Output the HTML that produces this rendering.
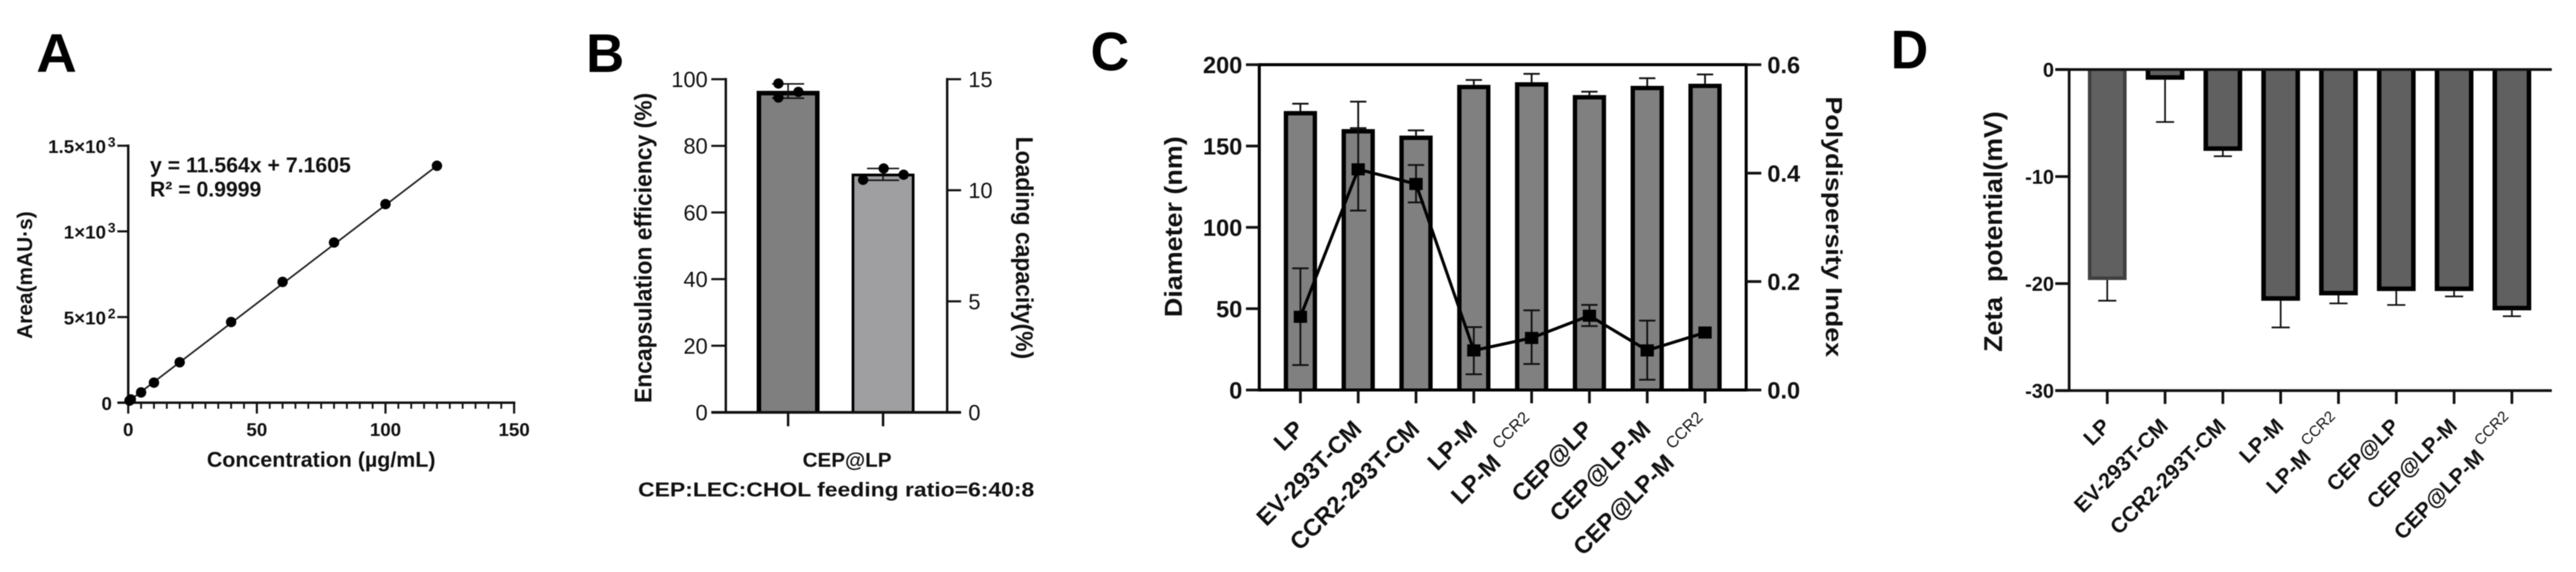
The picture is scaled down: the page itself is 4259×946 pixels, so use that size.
<!DOCTYPE html>
<html lang="en">
<head>
<meta charset="utf-8">
<title>CEP liposome characterization panels</title>
<style>
html,body{margin:0;padding:0;background:#fff;}
svg{display:block;filter:blur(0.7px);}
text{font-family:"Liberation Sans",Arial,sans-serif;fill:#111;}
.b{font-weight:700;}
.letter{font-size:90px;font-weight:700;fill:#000;}
</style>
</head>
<body>
<svg id="fig" xmlns="http://www.w3.org/2000/svg" width="4259" height="946" viewBox="0 0 4259 946">
<rect width="4259" height="946" fill="#fff"/>
<g id="panelA">
<text class="letter" x="60" y="119" textLength="67" lengthAdjust="spacingAndGlyphs">A</text>
<text class="b" font-size="35" text-anchor="middle" transform="translate(53,455) rotate(-90)" textLength="211" lengthAdjust="spacingAndGlyphs">Area(mAU·s)</text>
<text class="b" font-size="35" x="342" y="772" textLength="378" lengthAdjust="spacingAndGlyphs">Concentration (µg/mL)</text>
<text class="b" font-size="35" x="248" y="285" textLength="332" lengthAdjust="spacingAndGlyphs">y = 11.564x + 7.1605</text>
<text class="b" font-size="35" x="248" y="325" textLength="184" lengthAdjust="spacingAndGlyphs">R² = 0.9999</text>
</g>
<g id="panelB">
<text class="letter" x="969" y="119" textLength="63" lengthAdjust="spacingAndGlyphs">B</text>
<text class="b" font-size="40" text-anchor="middle" transform="translate(1077,410) rotate(-90)" textLength="513" lengthAdjust="spacingAndGlyphs">Encapsulation efficiency (%)</text>
<text class="b" font-size="40" text-anchor="middle" transform="translate(1680,410) rotate(90)" textLength="368" lengthAdjust="spacingAndGlyphs">Loading capacity(%)</text>
<text class="b" font-size="33" x="1327" y="772" textLength="147" lengthAdjust="spacingAndGlyphs">CEP@LP</text>
<text class="b" font-size="33" x="1055" y="821" textLength="655" lengthAdjust="spacingAndGlyphs">CEP:LEC:CHOL feeding ratio=6:40:8</text>
</g>
<g id="panelC">
<text class="letter" x="1803" y="116" textLength="64" lengthAdjust="spacingAndGlyphs">C</text>
<text class="b" font-size="41" text-anchor="middle" transform="translate(1954,375) rotate(-90)" textLength="299" lengthAdjust="spacingAndGlyphs">Diameter (nm)</text>
<text class="b" font-size="38" text-anchor="middle" transform="translate(3019,375) rotate(90)" textLength="431" lengthAdjust="spacingAndGlyphs">Polydispersity Index</text>
</g>
<g id="panelD">
<text class="letter" x="3126" y="113" textLength="62" lengthAdjust="spacingAndGlyphs">D</text>
<text class="b" font-size="43" text-anchor="middle" transform="translate(3310,383) rotate(-90)" textLength="398" lengthAdjust="spacingAndGlyphs">Zeta&#160;&#160;potential(mV)</text>
</g>
</svg>
<script>
/* ---------- Panel A data ---------- */
var calibConc = [0.5, 1, 5, 10, 20, 40, 60, 80, 100, 120];
var calibArea = [12, 19, 60, 117, 236, 471, 705, 935, 1159, 1383];
var calibYTicks = [0, 500, 1000, 1500];
var calibYTickBase = ['0', '5×10', '1×10', '1.5×10'];
var calibYTickExp = ['', '2', '3', '3'];
var calibXTicks = [0, 50, 100, 150];
var calibXMinorTicks = [5,10,15,20,25,30,35,40,45,55,60,65,70,75,80,85,90,95,105,110,115,120,125,130,135,140,145];

/* ---------- Panel B data ---------- */
var eeMean = 96.5;
var eeLow = 94.3;
var eeHigh = 98.6;
var eeReplicates = [98.7, 96.2, 94.5];
var lcMean = 10.75;
var lcLow = 10.45;
var lcHigh = 10.98;
var lcReplicates = [10.98, 10.7, 10.47];
var eeTicks = [0, 20, 40, 60, 80, 100];
var lcTicks = [0, 5, 10, 15];

/* ---------- Panel C data ---------- */
var categories = ['LP', 'EV-293T-CM', 'CCR2-293T-CM', 'LP-M', 'LP-M', 'CEP@LP', 'CEP@LP-M', 'CEP@LP-M'];
var categorySup = ['', '', '', '', 'CCR2', '', '', 'CCR2'];
var diameter = [171.5, 160.4, 156.4, 187.6, 189.2, 181.3, 187, 188.3];
var diameterUpper = [176, 177.3, 159.6, 190.6, 194.4, 183.4, 191.7, 194];
var pdi = [0.135, 0.407, 0.38, 0.073, 0.096, 0.137, 0.073, 0.106];
var pdiUpper = [0.2245, 0.483, 0.415, 0.116, 0.147, 0.157, 0.128, 0.106];
var pdiLower = [0.046, 0.331, 0.346, 0.029, 0.048, 0.118, 0.019, 0.106];
var diameterTicks = [0, 50, 100, 150, 200];
var pdiTicks = [0, 0.2, 0.4, 0.6];
var pdiTickLabels = ['0.0', '0.2', '0.4', '0.6'];

/* ---------- Panel D data ---------- */
var zeta = [-19.67, -0.95, -7.6, -21.6, -21.1, -20.7, -20.7, -22.5];
var zetaLower = [-21.6, -4.9, -8.1, -24.1, -21.85, -22, -21.2, -23.05];
var zetaTicks = [0, -10, -20, -30];

/* ---------- helpers ---------- */
var NS = 'http://www.w3.org/2000/svg';
function mk(parent, tag, attrs, txt) {
  var n = document.createElementNS(NS, tag);
  for (var k in attrs) n.setAttribute(k, attrs[k]);
  if (txt !== undefined) n.textContent = txt;
  parent.appendChild(n);
  return n;
}
function line(parent, x1, y1, x2, y2, w, color) {
  return mk(parent, 'line', {x1: x1, y1: y1, x2: x2, y2: y2, stroke: color || '#111', 'stroke-width': w});
}
/* three-sided bar: open on the baseline side so no extra stroke doubles the axis */
function barShape(parent, cx, width, baseY, valueY, fill, stroke, sw) {
  var xL = cx - width / 2 + sw / 2, xR = cx + width / 2 - sw / 2;
  var vY = valueY + (baseY > valueY ? sw / 2 : -sw / 2);
  return mk(parent, 'path', {d: 'M' + xL + ' ' + baseY + 'L' + xL + ' ' + vY + 'L' + xR + ' ' + vY + 'L' + xR + ' ' + baseY, fill: fill, stroke: stroke, 'stroke-width': sw});
}
function rotatedLabel(parent, x, y, size, label, sup, supSize, supDx, supDy) {
  var t = mk(parent, 'text', {transform: 'translate(' + x + ',' + y + ') rotate(-45)', 'text-anchor': 'end', 'font-size': size, 'class': 'b'}, label);
  if (sup) {
    var s = mk(t, 'tspan', {'font-size': supSize, dx: supDx, dy: supDy, 'font-weight': 400}, sup);
    
    
  }
  return t;
}
var el;

/* ---------- Panel A ---------- */
(function () {
  var g = document.getElementById('panelA');
  var xA = function (v) { return 212 + v / 150 * (850 - 212); };
  var yA = function (v) { return 666 - v / 1500 * (666 - 241); };
  el = line(g, xA(0), yA(0) + 1, xA(0), yA(1500) - 2, 4);
  
  
  el = line(g, xA(0) - 18, yA(0), xA(150) + 2, yA(0), 4);
  
  
  calibYTicks.forEach(function (v, i) {
    el = line(g, xA(0) - 18, yA(v), xA(0), yA(v), 3.5);
    
    
    el = mk(g, 'text', {x: i === 0 ? 185 : 191, y: yA(v) + 12, 'text-anchor': 'end', 'font-size': 31, 'class': 'b'}, calibYTickBase[i]);
    
    
    if (calibYTickExp[i]) {
      var s = mk(el, 'tspan', {'font-size': 23, dx: 3, dy: -10}, calibYTickExp[i]);
      
      
    }
  });
  calibXTicks.forEach(function (v) {
    el = line(g, xA(v), yA(0), xA(v), yA(0) + 18, 3.5);
    
    
    el = mk(g, 'text', {x: xA(v), y: 721, 'text-anchor': 'middle', 'font-size': 31, 'class': 'b'}, String(v));
    
    
  });
  calibXMinorTicks.forEach(function (v) {
    el = line(g, xA(v), yA(0), xA(v), yA(0) + 10, 3);
    
    
  });
  var last = calibConc.length - 1;
  el = line(g, xA(calibConc[0]), yA(calibArea[0]), xA(calibConc[last]), yA(calibArea[last]), 2.8, '#222');
  
  
  calibConc.forEach(function (c, i) {
    el = mk(g, 'circle', {cx: xA(c), cy: yA(calibArea[i]), r: 8.6, fill: '#000'});
    
    
  });
})();

/* ---------- Panel B ---------- */
(function () {
  var g = document.getElementById('panelB');
  var yL = function (v) { return 682 - v / 100 * (682 - 131); };
  var yR = function (v) { return 682 - v / 15 * (682 - 131); };
  var c1 = 1303, c2 = 1460, barW = 104, capW = 53;
  var slots1 = [-16, 17, -16], slots2 = [1, 34, -33];
  el = barShape(g, c1, barW, yL(0), yL(eeMean), '#7f7f80', '#000', 7.5);
  
  
  el = barShape(g, c2, barW, yR(0), yR(lcMean), '#9f9fa2', '#000', 4.5);
  
  

  el = line(g, 1200, 682, 1200, 129, 4);
  
  
  el = line(g, 1566, 682, 1566, 129, 4);
  
  
  el = line(g, 1176, 682, 1589, 682, 4.5);
  
  
  eeTicks.forEach(function (v) {
    el = line(g, 1176, yL(v), 1200, yL(v), 3.5);
    
    
    el = mk(g, 'text', {x: 1170, y: yL(v) + 13, 'text-anchor': 'end', 'font-size': 36}, String(v));
    
    
  });
  lcTicks.forEach(function (v) {
    el = line(g, 1566, yR(v), 1589, yR(v), 3.5);
    
    
    el = mk(g, 'text', {x: 1601, y: yR(v) + 13, 'font-size': 36}, String(v));
    
    
  });
  [c1, c2].forEach(function (c) {
    el = line(g, c, 682, c, 705, 4);
    
    
  });
  function errs(c, top, bot) {
    el = line(g, c, top, c, bot, 2.5);
    
    
    el = line(g, c - capW / 2, top, c + capW / 2, top, 2.5);
    
    
    el = line(g, c - capW / 2, bot, c + capW / 2, bot, 2.5);
    
    
  }
  errs(c1, yL(eeHigh), yL(eeLow));
  errs(c2, yR(lcHigh), yR(lcLow));
  eeReplicates.forEach(function (v, i) {
    el = mk(g, 'circle', {cx: c1 + slots1[i], cy: yL(v), r: 8.5, fill: '#000'});
    
    
  });
  lcReplicates.forEach(function (v, i) {
    el = mk(g, 'circle', {cx: c2 + slots2[i], cy: yR(v), r: 8.5, fill: '#000'});
    
    
  });
})();

/* ---------- Panel C ---------- */
(function () {
  var g = document.getElementById('panelC');
  var xC = function (i) { return 2150 + i * (2819 - 2150) / 7; };
  var yD = function (v) { return 645 - v / 200 * (645 - 107); };
  var yP = function (v) { return 645 - v / 0.6 * (645 - 107); };
  var capW = 27;
  diameter.forEach(function (v, i) {
    el = barShape(g, xC(i), 55, yD(0), yD(v), '#808080', '#000', 7.2);
    
    
    el = line(g, xC(i), yD(v), xC(i), yD(diameterUpper[i]), 3);
    
    
    el = line(g, xC(i) - capW / 2, yD(diameterUpper[i]), xC(i) + capW / 2, yD(diameterUpper[i]), 3);
    
    
  });
  el = mk(g, 'rect', {x: 2082, y: yD(200), width: 805, height: yD(0) - yD(200), fill: 'none', stroke: '#000', 'stroke-width': 5});
  
  
  diameterTicks.forEach(function (v) {
    el = line(g, 2060, yD(v), 2082, yD(v), 4.5);
    
    
    el = mk(g, 'text', {x: 2054, y: yD(v) + 14, 'text-anchor': 'end', 'font-size': 39, 'class': 'b'}, String(v));
    
    
  });
  pdiTicks.forEach(function (v, i) {
    el = line(g, 2887, yP(v), 2912, yP(v), 4.5);
    
    
    el = mk(g, 'text', {x: 2922, y: yP(v) + 14, 'font-size': 39, 'class': 'b'}, pdiTickLabels[i]);
    
    
  });
  categories.forEach(function (c, i) {
    el = line(g, xC(i), yD(0), xC(i), 667, 4.5);
    
    
    el = rotatedLabel(g, xC(i) + (categorySup[i] ? 12.5 : 8), categorySup[i] ? 706.5 : 712, 39.5, c, categorySup[i], 27, 13, -20.5);
    
    
  });
  pdi.forEach(function (v, i) {
    if (pdiUpper[i] === pdiLower[i]) return;
    el = line(g, xC(i), yP(pdiUpper[i]), xC(i), yP(pdiLower[i]), 3);
    
    
    el = line(g, xC(i) - capW / 2, yP(pdiUpper[i]), xC(i) + capW / 2, yP(pdiUpper[i]), 3);
    
    
    el = line(g, xC(i) - capW / 2, yP(pdiLower[i]), xC(i) + capW / 2, yP(pdiLower[i]), 3);
    
    
  });
  el = mk(g, 'polyline', {points: pdi.map(function (v, i) { return xC(i) + ',' + yP(v); }).join(' '), fill: 'none', stroke: '#000', 'stroke-width': 5});
  
  
  pdi.forEach(function (v, i) {
    el = mk(g, 'rect', {x: xC(i) - 11, y: yP(v) - 10, width: 22, height: 20, fill: '#000'});
    
    
  });
})();

/* ---------- Panel D ---------- */
(function () {
  var g = document.getElementById('panelD');
  var xZ = function (i) { return 3484 + i * (4153 - 3484) / 7; };
  var yZ = function (v) { return 115 + (-v) / 30 * (646 - 115); };
  var capW = 30;
  zeta.forEach(function (v, i) {
    el = line(g, xZ(i), yZ(v), xZ(i), yZ(zetaLower[i]), 2.8);
    
    
    el = line(g, xZ(i) - capW / 2, yZ(zetaLower[i]), xZ(i) + capW / 2, yZ(zetaLower[i]), 2.8);
    
    
    el = barShape(g, xZ(i), 64, yZ(0), yZ(v), '#606060', i === 0 ? '#404040' : '#000', i === 0 ? 6 : 7.5);
    
    
  });
  el = line(g, 3421, yZ(0) - 2, 3421, yZ(-30) + 2, 4.5);
  
  
  el = line(g, 3398, yZ(0), 4219, yZ(0), 4.5);
  
  
  el = line(g, 3398, yZ(-30), 4219, yZ(-30), 4.5);
  
  
  zetaTicks.forEach(function (v) {
    el = line(g, 3398, yZ(v), 3421, yZ(v), 4.5);
    
    
    el = mk(g, 'text', {x: 3396, y: yZ(v) + 12, 'text-anchor': 'end', 'font-size': 33, 'class': 'b'}, String(v));
    
    
  });
  categories.forEach(function (c, i) {
    el = line(g, xZ(i), yZ(-30), xZ(i), 668, 4.5);
    
    
    el = rotatedLabel(g, xZ(i) + (categorySup[i] ? 10 : 7), categorySup[i] ? 704 : 707, 35.3, c, categorySup[i], 25, 8, -19.8);
    
    
  });
})();
</script>
</body>
</html>
